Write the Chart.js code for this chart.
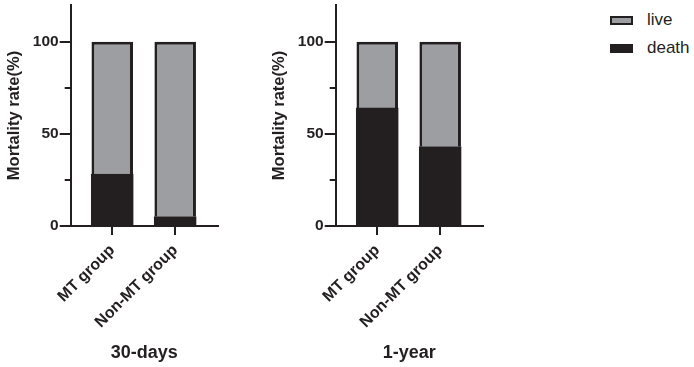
<!DOCTYPE html>
<html><head><meta charset="utf-8">
<script src="https://cdn.jsdelivr.net/npm/chart.js@4.4.1/dist/chart.umd.min.js"></script>
<style>
html,body{margin:0;padding:0;background:#fff;width:694px;height:367px;overflow:hidden;}
.c{position:absolute;top:0;width:240px;height:367px;}
#legend{position:absolute;left:610px;top:0;font-family:"Liberation Sans",Arial,sans-serif;font-size:17px;color:#231f20;}
.item{position:absolute;left:0;white-space:nowrap;height:20px;width:84px;}
.box{position:absolute;left:0;top:6px;width:23px;height:9px;box-sizing:border-box;}
.lab{position:absolute;left:37px;line-height:20px;top:0;}
</style></head>
<body>
<div class="c" style="left:0"><canvas id="c1" width="240" height="367"></canvas></div>
<div class="c" style="left:265px"><canvas id="c2" width="240" height="367"></canvas></div>
<div id="legend"></div>
<script>
const categories = ["MT group", "Non-MT group"];
const periods = ["30-days", "1-year"];
const seriesNames = ["live", "death"];
const death30 = [28, 5];
const live30 = [72, 95];
const death1y = [64, 43];
const live1y = [36, 57];
const yTicks = [0, 50, 100];
const yMinorTicks = [25, 75];
const yTitle = "Mortality rate(%)";

const DARK = "#231f20";
const GRAY = "#9d9ea2";
const FONT = '"Liberation Sans", Arial, Helvetica, sans-serif';

const minorTickPlugin = {
  id: 'minorTicks',
  afterDraw(chart) {
    const y = chart.scales.y;
    const ctx = chart.ctx;
    ctx.save();
    ctx.strokeStyle = DARK;
    ctx.lineWidth = 2;
    yMinorTicks.forEach(v => {
      const py = Math.round(y.getPixelForValue(v));
      ctx.beginPath();
      ctx.moveTo(y.right - 6, py);
      ctx.lineTo(y.right, py);
      ctx.stroke();
    });
    ctx.restore();
  }
};

function makeChart(id, live, death, period) {
  const toPts = arr => arr.map((v, i) => ({x: i, y: v}));
  return new Chart(document.getElementById(id), {
    type: 'bar',
    data: {
      datasets: [
        {label: seriesNames[1], data: toPts(death), backgroundColor: DARK, borderColor: DARK, borderWidth: 3, inflateAmount: 0.6, categoryPercentage: 1, barPercentage: 0.66},
        {label: seriesNames[0], data: toPts(live), backgroundColor: GRAY, borderColor: DARK, borderWidth: 3, categoryPercentage: 1, barPercentage: 0.66}
      ]
    },
    options: {
      responsive: false,
      animation: false,
      devicePixelRatio: 1,
      layout: {padding: {top: 5, right: 22, left: 0, bottom: 0}},
      plugins: {legend: {display: false}, tooltip: {enabled: false}},
      scales: {
        x: {
          type: 'linear',
          offset: false,
          stacked: true,
          min: -0.66, max: 1.68,
          afterBuildTicks: s => { s.ticks = categories.map((c, i) => ({value: i})); },
          afterFit: s => { s.height = 141; s.paddingLeft = 0; s.paddingRight = 0; },
          grid: {display: true, offset: false, drawOnChartArea: false, drawTicks: true, tickLength: 9, color: DARK, lineWidth: 2},
          border: {display: true, color: DARK, width: 2},
          ticks: {
            autoSkip: false, minRotation: 45, maxRotation: 45, padding: 6,
            color: DARK, font: {family: FONT, size: 16, weight: 'bold'},
            callback: v => categories[v] !== undefined ? categories[v] : ''
          },
          title: {display: true, text: period, color: DARK, font: {family: FONT, size: 18, weight: 'bold'}, padding: {top: 0, bottom: 3}}
        },
        y: {
          stacked: true,
          min: 0, max: 120,
          afterBuildTicks: s => { s.ticks = yTicks.map(v => ({value: v})); },
          afterFit: s => { s.width = 70.7; s.paddingTop = 0; s.paddingBottom = 0; },
          grid: {display: true, drawOnChartArea: false, drawTicks: true, tickLength: 11, color: DARK, lineWidth: 2},
          border: {display: true, color: DARK, width: 2},
          ticks: {padding: 1, color: DARK, font: {family: FONT, size: 15.5, weight: 'bold'}, callback: v => String(v)},
          title: {display: true, text: yTitle, color: DARK, font: {family: FONT, size: 16.5, weight: 'bold'}, padding: {top: 5, bottom: 0}}
        }
      }
    },
    plugins: [minorTickPlugin]
  });
}

makeChart('c1', live30, death30, periods[0]);
makeChart('c2', live1y, death1y, periods[1]);

// legend
const legendColors = {live: GRAY, death: DARK};
const legend = document.getElementById('legend');
seriesNames.forEach((name, i) => {
  const item = document.createElement('div');
  item.className = 'item';
  item.style.top = (10 + i * 28) + 'px';
  const box = document.createElement('div');
  box.className = 'box';
  box.style.background = legendColors[name];
  box.style.border = '2.5px solid ' + DARK;
  const lab = document.createElement('span');
  lab.className = 'lab';
  lab.textContent = name;
  item.appendChild(box); item.appendChild(lab);
  legend.appendChild(item);
});
</script>
</body></html>
